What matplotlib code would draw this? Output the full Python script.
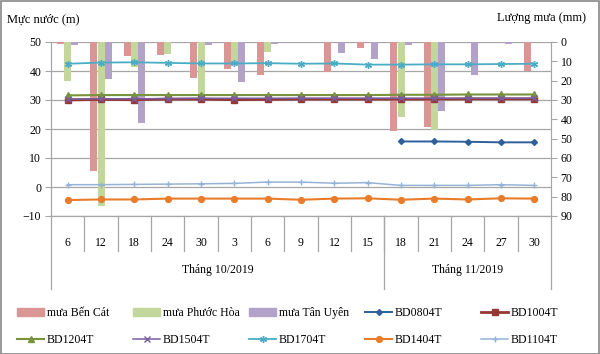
import numpy as np
import matplotlib
matplotlib.use("Agg")
import matplotlib.pyplot as plt
from matplotlib.patches import Patch, Rectangle

plt.rcParams['font.family'] = ['Liberation Serif', 'DejaVu Serif']

# x categories (days) and month groups
days = ['6', '12', '18', '24', '30', '3', '6', '9', '12', '15', '18', '21', '24', '27', '30']
months = ['Tháng 10/2019', 'Tháng 11/2019']
month_counts = [10, 5]

# rainfall (mm), right axis, hanging from the top
rain_ben_cat = [0.9, 66.9, 7.4, 6.6, 18.6, 13.8, 16.9, 0, 15.7, 3.3, 46.0, 44.1, 0, 0, 14.8]
rain_phuoc_hoa = [20.3, 84.7, 12.8, 6.0, 29.0, 10.5, 5.2, 0, 0, 0, 38.6, 45.7, 0, 0, 0]
rain_tan_uyen = [1.7, 19.0, 41.7, 0, 1.7, 20.7, 0.9, 0, 5.9, 8.6, 1.4, 35.9, 16.9, 0.9, 0]

# water levels (m), left axis
nan = np.nan
bd0804 = [nan] * 10 + [15.7, 15.7, 15.6, 15.4, 15.4]
bd1004 = [30.0, 30.2, 30.1, 30.3, 30.3, 30.1, 30.2, 30.3, 30.3, 30.3, 30.3, 30.3, 30.4, 30.4, 30.4]
bd1204 = [31.6, 31.7, 31.7, 31.7, 31.7, 31.7, 31.7, 31.7, 31.7, 31.7, 31.8, 31.8, 31.9, 31.9, 31.9]
bd1504 = [30.3, 30.4, 30.4, 30.5, 30.6, 30.6, 30.6, 30.6, 30.6, 30.6, 30.6, 30.6, 30.6, 30.6, 30.6]
bd1704 = [42.5, 42.9, 43.0, 42.8, 42.6, 42.6, 42.7, 42.5, 42.6, 42.2, 42.2, 42.3, 42.3, 42.4, 42.5]
bd1404 = [-4.5, -4.3, -4.3, -4.0, -4.0, -4.0, -4.0, -4.4, -4.0, -3.9, -4.4, -4.0, -4.3, -3.9, -4.0]
bd1104 = [0.8, 0.8, 0.9, 1.0, 1.1, 1.25, 1.7, 1.7, 1.3, 1.5, 0.55, 0.55, 0.55, 0.8, 0.55]

W, H = 600, 354
fig = plt.figure(figsize=(6, 3.54), dpi=100)
fig.add_artist(Rectangle((0.001, 0.001), 0.997, 0.996, transform=fig.transFigure,
                         fill=False, edgecolor='#888888', linewidth=1.2))

left, right, top, bottom = 51, 551, 42, 216
ax = fig.add_axes([left / W, 1 - bottom / H, (right - left) / W, (bottom - top) / H])
axr = ax.twinx()
ax.set_zorder(axr.get_zorder() + 1)
ax.patch.set_visible(False)

x = np.arange(len(days))
grid_c = '#a6a6a6'
fs = 8.5

# rain bars
bw = 0.21
axr.bar(x - 0.215, rain_ben_cat, bw, color='#d99694', label='mưa Bến Cát')
axr.bar(x, rain_phuoc_hoa, bw, color='#c3d69b', label='mưa Phước Hòa')
axr.bar(x + 0.215, rain_tan_uyen, bw, color='#b3a2c7', label='mưa Tân Uyên')
axr.set_ylim(90, 0)
axr.set_yticks(range(0, 91, 10))

# gridlines matching left ticks, drawn behind bars
left_ticks = list(range(-10, 51, 10))
for t in left_ticks:
    axr.axhline((50 - t) * 90 / 60, color=grid_c, lw=0.9, zorder=0)

# water level lines
lines = [
    ('BD0804T', bd0804, '#2f5f9a', 'D', 3.0, 1.4),
    ('BD1004T', bd1004, '#953735', 's', 3.8, 2.0),
    ('BD1204T', bd1204, '#77933c', '^', 4.0, 1.5),
    ('BD1504T', bd1504, '#7a5c9e', 'x', 4.0, 1.1),
    ('BD1704T', bd1704, '#4bacc6', (6, 2, 0), 5, 1.3),
    ('BD1404T', bd1404, '#e87c2a', 'o', 4.2, 1.5),
    ('BD1104T', bd1104, '#95b3d7', '+', 5, 1.1),
]
handles = {}
for name, vals, c, m, ms, lw in lines:
    h, = ax.plot(x, vals, color=c, marker=m, markersize=ms, lw=lw,
                 markeredgecolor=c, markerfacecolor=c, label=name)
    handles[name] = h

ax.set_xlim(-0.5, len(days) - 0.5)
ax.set_ylim(-10, 50)
ax.set_yticks(left_ticks)
ax.set_xticks(x)
ax.set_xticklabels(days)
for a in (ax, axr):
    for s in a.spines.values():
        s.set_color(grid_c)
    a.spines['top'].set_visible(False)
ax.tick_params(axis='y', length=4, color=grid_c, labelsize=fs, pad=3)
axr.tick_params(axis='y', length=4, color=grid_c, labelsize=fs, pad=3)
ax.tick_params(axis='x', length=0, labelsize=fs, pad=15)

# category separators and month group separators
tr = ax.get_xaxis_transform()
for b in np.arange(0.5, len(days) - 1, 1.0):
    ax.plot([b, b], [0, -0.2], transform=tr, color=grid_c, lw=0.9, clip_on=False)
edges = np.concatenate([[0], np.cumsum(month_counts)]) - 0.5
for e in edges:
    ax.plot([e, e], [0, -0.42], transform=tr, color=grid_c, lw=0.9, clip_on=False)
for i, mname in enumerate(months):
    ax.text((edges[i] + edges[i + 1]) / 2, -0.31, mname, transform=tr,
            ha='center', va='center', fontsize=fs)

fig.text(7 / W, 1 - 19 / H, 'Mực nước (m)', fontsize=fs + 0.5, ha='left', va='center')
fig.text(586 / W, 1 - 18 / H, 'Lượng mưa (mm)', fontsize=fs + 0.5, ha='right', va='center')

# legend, 5 fixed columns of 2 rows
bar_h = [Patch(color='#d99694'), Patch(color='#c3d69b'), Patch(color='#b3a2c7')]
row1 = [(bar_h[0], 'mưa Bến Cát'), (bar_h[1], 'mưa Phước Hòa'), (bar_h[2], 'mưa Tân Uyên'),
        (handles['BD0804T'], 'BD0804T'), (handles['BD1004T'], 'BD1004T')]
row2 = [(handles[n], n) for n in ['BD1204T', 'BD1504T', 'BD1704T', 'BD1404T', 'BD1104T']]
col_x = [17, 133, 249, 365, 481]
for c in range(5):
    hs = [row1[c][0], row2[c][0]]
    ls = [row1[c][1], row2[c][1]]
    fig.legend(hs, ls, loc='upper left', bbox_to_anchor=(col_x[c] / W, 1 - 307 / H),
               frameon=False, fontsize=fs, handlelength=2.3, handleheight=0.6,
               handletextpad=0.2, labelspacing=1.25, borderpad=0, borderaxespad=0)

fig.savefig('out.png', dpi=100)
